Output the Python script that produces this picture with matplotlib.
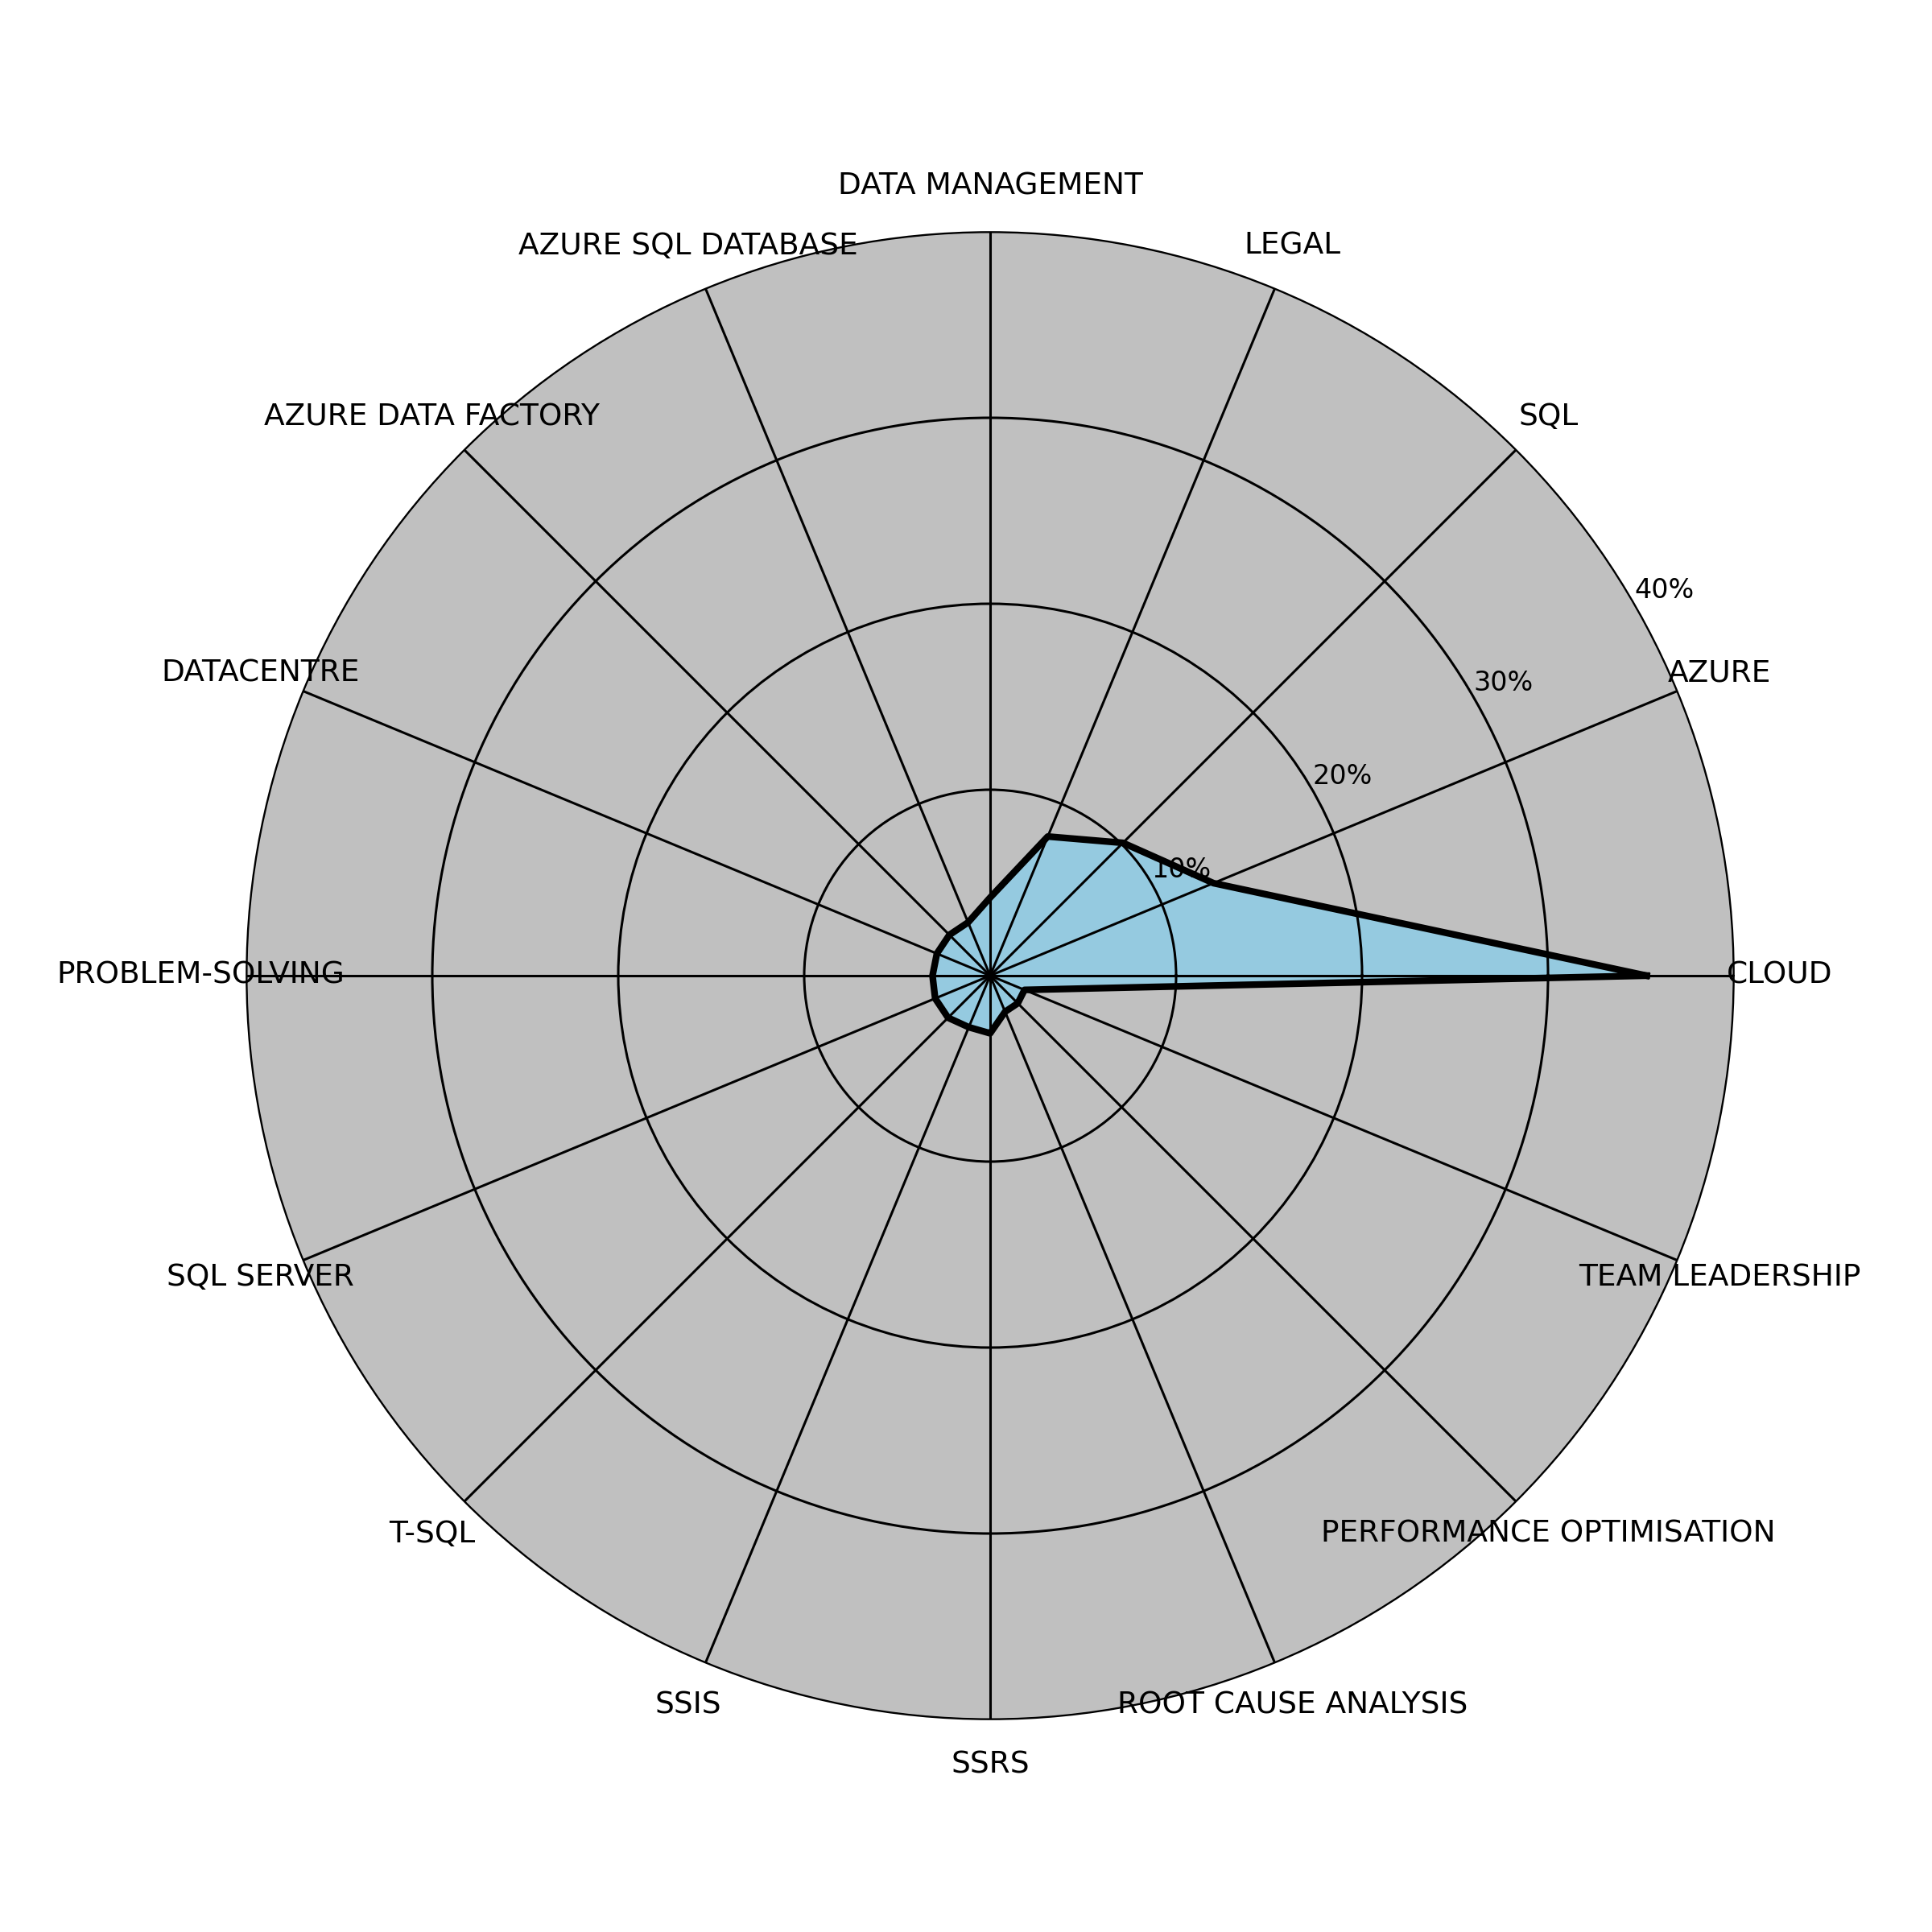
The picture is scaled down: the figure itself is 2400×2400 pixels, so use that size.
import numpy as np
import matplotlib
matplotlib.use("Agg")
import matplotlib.pyplot as plt

categories = ["CLOUD", "AZURE", "SQL", "LEGAL", "DATA MANAGEMENT",
              "AZURE SQL DATABASE", "AZURE DATA FACTORY", "DATACENTRE",
              "PROBLEM-SOLVING", "SQL SERVER", "T-SQL", "SSIS", "SSRS",
              "ROOT CAUSE ANALYSIS", "PERFORMANCE OPTIMISATION", "TEAM LEADERSHIP"]
values = [35.3, 13.0, 10.1, 8.1, 4.2, 3.1, 3.1, 3.1, 3.1, 3.2, 3.2, 3.0, 3.1, 2.1, 2.1, 2.0]
r_ticks = [10, 20, 30, 40]
r_tick_labels = ["10%", "20%", "30%", "40%"]

n = len(categories)
angles = np.linspace(0, 2 * np.pi, n, endpoint=False)
ang_c = np.concatenate([angles, angles[:1]])
val_c = np.concatenate([values, values[:1]])

fig = plt.figure(figsize=(12, 12), dpi=200)
ax = fig.add_subplot(111, polar=True)
ax.set_facecolor("silver")
ax.fill(ang_c, val_c, color="skyblue", alpha=0.75)
ax.plot(ang_c, val_c, color="black", linewidth=3)
ax.set_xticks(angles)
ax.set_xticklabels(categories, fontsize=13.5)
ax.tick_params(axis="x", pad=10)
ax.set_yticks(r_ticks)
ax.set_yticklabels(r_tick_labels, fontsize=12)
ax.set_rlabel_position(30)
ax.set_ylim(0, 40)
ax.grid(color="black", linewidth=1.1)
ax.spines["polar"].set_linewidth(0.6)

fig.savefig("out.png", dpi=200)
